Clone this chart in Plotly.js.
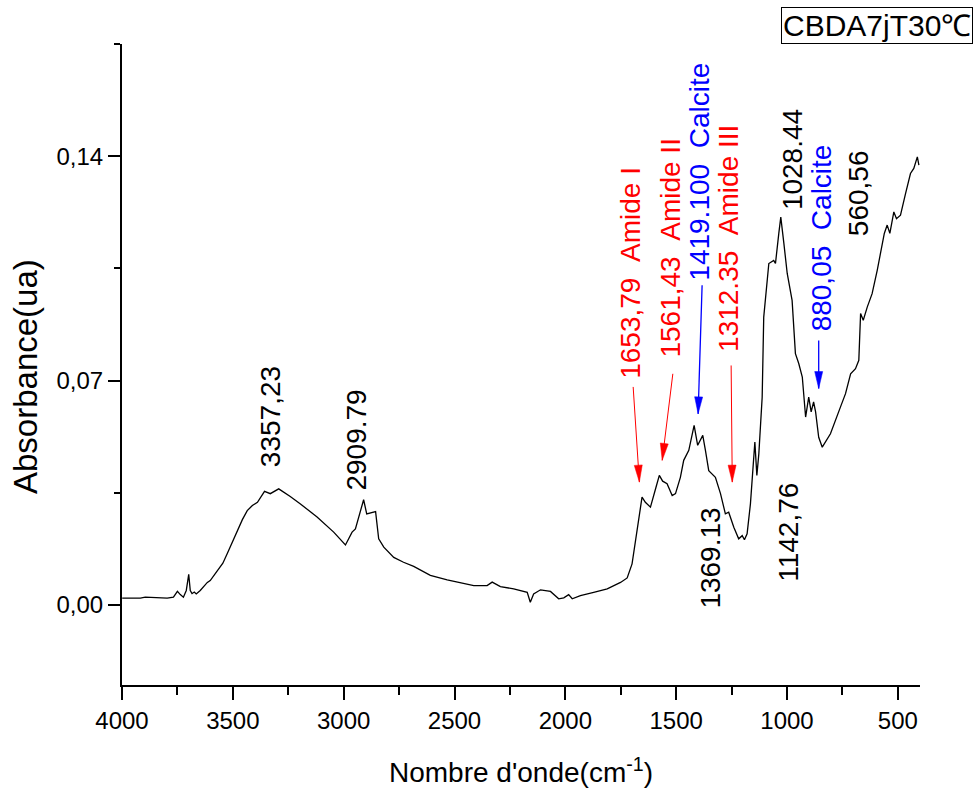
<!DOCTYPE html>
<html>
<head>
<meta charset="utf-8">
<script src="https://cdn.plot.ly/plotly-3.0.1.min.js"></script>
<style>
  html, body { margin: 0; padding: 0; background: #ffffff; }
  #chart { width: 975px; height: 796px; }
</style>
</head>
<body>
<div id="chart"></div>
<script>
// FTIR spectrum: wavenumber (cm-1) and absorbance (ua)
const wavenumber = [
  3999, 3960, 3917, 3895, 3860, 3827, 3796, 3768, 3750, 3737, 3723, 3710, 3699, 3692, 3684, 3674,
  3665, 3647, 3615, 3602, 3570, 3545, 3525, 3502, 3480, 3457, 3435, 3412, 3389, 3357, 3331, 3293,
  3241, 3195, 3120, 3045, 2992, 2962, 2947, 2910, 2896, 2872, 2856, 2842, 2819, 2774, 2730, 2684,
  2609, 2533, 2413, 2353, 2330, 2293, 2233, 2172, 2158, 2143, 2112, 2067, 2030, 2007, 1985, 1969,
  1932, 1872, 1811, 1751, 1721, 1699, 1676, 1654, 1639, 1616, 1591, 1576, 1561, 1541, 1518, 1503,
  1481, 1466, 1443, 1419, 1403, 1380, 1368, 1353, 1323, 1300, 1278, 1263, 1240, 1218, 1202, 1192,
  1180, 1165, 1145, 1136, 1127, 1112, 1105, 1089, 1082, 1060, 1052, 1037, 1028, 1014, 999, 977,
  969, 962, 947, 931, 916, 902, 891, 880, 871, 857, 841, 804, 759, 736, 713, 691,
  676, 668, 656, 638, 616, 593, 561, 548, 536, 518, 506, 488, 465, 443, 428, 412,
  405
];
const absorbance = [
  0.0021, 0.0022, 0.0021, 0.0024, 0.0023, 0.0024, 0.0021, 0.0024, 0.0042, 0.0032, 0.0024, 0.0045, 0.0095, 0.0045, 0.0035, 0.0040,
  0.0034, 0.0045, 0.0070, 0.0076, 0.0107, 0.0130, 0.0160, 0.0197, 0.0232, 0.0266, 0.0294, 0.0310, 0.0320, 0.0354, 0.0347, 0.0362,
  0.0338, 0.0315, 0.0274, 0.0227, 0.0187, 0.0227, 0.0237, 0.0328, 0.0284, 0.0287, 0.0291, 0.0206, 0.0180, 0.0148, 0.0133, 0.0120,
  0.0092, 0.0078, 0.0060, 0.0060, 0.0071, 0.0057, 0.0050, 0.0039, 0.0008, 0.0034, 0.0047, 0.0042, 0.0019, 0.0022, 0.0032, 0.0019,
  0.0029, 0.0039, 0.0050, 0.0070, 0.0084, 0.0128, 0.0232, 0.0336, 0.0320, 0.0305, 0.0367, 0.0404, 0.0386, 0.0378, 0.0341, 0.0347,
  0.0398, 0.0451, 0.0482, 0.0560, 0.0498, 0.0529, 0.0482, 0.0419, 0.0398, 0.0347, 0.0284, 0.0289, 0.0242, 0.0206, 0.0216, 0.0203,
  0.0222, 0.0315, 0.0508, 0.0404, 0.0472, 0.0648, 0.0898, 0.1023, 0.1065, 0.1075, 0.1065, 0.1159, 0.1210, 0.1127, 0.1034, 0.0950,
  0.0846, 0.0784, 0.0753, 0.0711, 0.0586, 0.0648, 0.0602, 0.0633, 0.0602, 0.0523, 0.0492, 0.0534, 0.0617, 0.0659, 0.0721, 0.0737,
  0.0763, 0.0909, 0.0888, 0.0929, 0.0971, 0.1044, 0.1159, 0.1185, 0.1159, 0.1226, 0.1205, 0.1216, 0.1284, 0.1346, 0.1362, 0.1398,
  0.1372
];

// Band assignments written vertically beside the spectrum
const labelText = [
  '3357,23', '2909.79', '1653,79\u00a0\u00a0Amide I', '1561,43\u00a0\u00a0Amide II',
  '1419.100\u00a0\u00a0Calcite', '1312.35\u00a0\u00a0Amide III', '1369.13', '1142,76',
  '1028.44', '880,05\u00a0\u00a0Calcite', '560,56'
];
const labelWn  = [3329, 2941, 1704, 1526, 1395, 1263, 1345, 997, 977, 846, 676];
const labelAbs = [0.0588, 0.0515, 0.1036, 0.1113, 0.1353, 0.1144, 0.0146, 0.0227, 0.1388, 0.1144, 0.1284];
const labelColor = ['#000000', '#000000', '#ff0000', '#ff0000', '#0000ff', '#ff0000',
                    '#000000', '#000000', '#000000', '#0000ff', '#000000'];

// Pointer arrows from labels to bands
const arrowTailWn  = [1694, 1515, 1383, 1252, 857];
const arrowTailAbs = [0.0680, 0.0721, 0.0997, 0.0747, 0.0825];
const arrowTipWn   = [1666, 1563, 1401, 1247, 857];
const arrowTipAbs  = [0.0383, 0.0451, 0.0596, 0.0383, 0.0675];
const arrowColor   = ['#ff0000', '#ff0000', '#0000ff', '#ff0000', '#0000ff'];
const arrowWidth   = [1, 1, 1.3, 1, 1.3];

const sampleName = 'CBDA7jT30\u2103';
const xTitle = "Nombre d'onde(cm<sup>-1</sup>)";
const yTitle = 'Absorbance(ua)';

const FONT = 'Arial, "Liberation Sans", Helvetica, sans-serif';
const M = { l: 122, r: 55, t: 44, b: 111 };
const W = 975, H = 796;
const X_RANGE = [4000, 400];
const Y_RANGE = [-0.025, 0.175];

// pixel scales used to orient the arrowheads
const pxPerWn = (W - M.l - M.r) / (X_RANGE[0] - X_RANGE[1]);
const pxPerAbs = (H - M.t - M.b) / (Y_RANGE[1] - Y_RANGE[0]);

function headPath(tx, ty, hx, hy, len, half) {
  // direction in screen pixels (y up); wavenumber increases to the left
  const dx = -(hx - tx) * pxPerWn;
  const dy = (hy - ty) * pxPerAbs;
  const n = Math.hypot(dx, dy);
  const ux = dx / n, uy = dy / n;
  const bx = -len * ux, by = -len * uy;
  const px = -uy * half, py = ux * half;
  return 'M0,0 L' + (bx + px).toFixed(2) + ',' + (by + py).toFixed(2) +
         ' L' + (bx - px).toFixed(2) + ',' + (by - py).toFixed(2) + ' Z';
}

const shapes = [];
for (let i = 0; i < arrowTipWn.length; i++) {
  shapes.push({
    type: 'line', xref: 'x', yref: 'y',
    x0: arrowTailWn[i], y0: arrowTailAbs[i], x1: arrowTipWn[i], y1: arrowTipAbs[i],
    line: { color: arrowColor[i], width: arrowWidth[i] }
  });
  shapes.push({
    type: 'path', xref: 'x', yref: 'y',
    xsizemode: 'pixel', ysizemode: 'pixel',
    xanchor: arrowTipWn[i], yanchor: arrowTipAbs[i],
    path: headPath(arrowTailWn[i], arrowTailAbs[i], arrowTipWn[i], arrowTipAbs[i], 17, 4),
    fillcolor: arrowColor[i], line: { color: arrowColor[i], width: 0.5 }
  });
}

const annotations = labelText.map((t, i) => ({
  x: labelWn[i], y: labelAbs[i], xref: 'x', yref: 'y',
  text: t, showarrow: false, textangle: -90,
  xanchor: 'center', yanchor: 'middle',
  font: { family: FONT, size: 28, color: labelColor[i] }
}));
// sample name in a framed box, top right
annotations.push({
  x: 0.9455, y: 1.029, xref: 'paper', yref: 'paper',
  text: sampleName, showarrow: false, xanchor: 'center', yanchor: 'middle',
  font: { family: FONT, size: 30, color: '#000000' },
  bordercolor: '#000000', borderwidth: 1, borderpad: 1, bgcolor: '#ffffff'
});
// vertical axis title, set slightly below the axis midpoint
annotations.push({
  x: -0.1203, y: 0.4805, xref: 'paper', yref: 'paper',
  text: yTitle, showarrow: false, textangle: -90,
  xanchor: 'center', yanchor: 'middle',
  font: { family: FONT, size: 33, color: '#000000' }
});

const trace = {
  x: wavenumber, y: absorbance, type: 'scatter', mode: 'lines',
  line: { color: '#000000', width: 1.3 }, hoverinfo: 'skip'
};

const axisCommon = {
  showline: true, linecolor: '#000000', linewidth: 2,
  ticks: 'outside', tickcolor: '#000000', tickwidth: 2,
  showgrid: false, zeroline: false, mirror: false,
  tickfont: { family: FONT, size: 24, color: '#000000' }
};

const layout = {
  width: W, height: H,
  margin: M,
  paper_bgcolor: '#ffffff', plot_bgcolor: '#ffffff',
  separators: ',.',
  showlegend: false,
  xaxis: Object.assign({}, axisCommon, {
    range: X_RANGE, tick0: 0, dtick: 500, ticklen: 13,
    minor: { dtick: 250, tick0: 0, ticks: 'outside', ticklen: 8, tickwidth: 2, tickcolor: '#000000', showgrid: false },
    title: { text: xTitle, font: { family: FONT, size: 28, color: '#000000' }, standoff: 30 }
  }),
  yaxis: Object.assign({}, axisCommon, {
    range: Y_RANGE, tick0: 0, dtick: 0.07, ticklen: 12, tickformat: '.2f',
    minor: { dtick: 0.035, tick0: 0, ticks: 'outside', ticklen: 6, tickwidth: 2, tickcolor: '#000000', showgrid: false }
  }),
  shapes: shapes,
  annotations: annotations
};

Plotly.newPlot('chart', [trace], layout, { displayModeBar: false, staticPlot: true });
</script>
</body>
</html>
